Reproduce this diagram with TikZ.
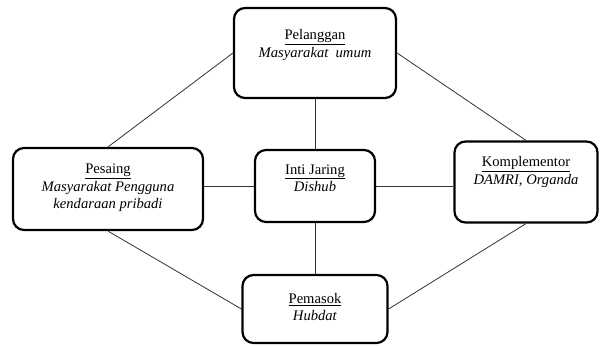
\documentclass[tikz,border=0pt]{standalone}
\usepackage{fontspec}
\setmainfont{Liberation Serif}
\usetikzlibrary{positioning}
\tikzset{kotak/.style={draw,line width=2.2pt,rounded corners=11pt,inner sep=0pt}}
\tikzset{isi/.style={align=center,font=\fontsize{14.6}{17.5}\selectfont,inner sep=0pt}}
\newcommand{\judul}[1]{\underline{#1}}

\begin{document}
\begin{tikzpicture}[x=1pt,y=-1pt]
        \useasboundingbox (0,0) rectangle (601,345);
        \node(pel)[kotak,minimum width=162pt,minimum height=90pt] at (315,53) {};
        \node(pes)[kotak,minimum width=190pt,minimum height=82pt] at (108,189) {};
        \node(inti)[kotak,minimum width=120pt,minimum height=72pt] at (315,186) {};
        \node(komp)[kotak,minimum width=143pt,minimum height=81pt] at (526,182) {};
        \node(pem)[kotak,minimum width=145pt,minimum height=68pt] at (315,309) {};
        \node(pelT)[isi] at (315,45) {\judul{Pelanggan}\\ \textit{Masyarakat\ \ umum}};
        \node(pesT)[isi] at (108,188) {\judul{Pesaing}\\ \textit{Masyarakat Pengguna}\\ \textit{kendaraan pribadi}};
        \node(intiT)[isi] at (315,178) {\judul{Inti Jaring}\\ \textit{Dishub}};
        \node(kompT)[isi] at (526,172) {\judul{Komplementor}\\ \textit{DAMRI, Organda}};
        \node(pemT)[isi] at (315,307) {\judul{Pemasok}\\ \textit{Hubdat}};
        \draw[line width=0.8pt,black!80]
        (pel.west) edge (pes.north)
        (pel.east) edge (komp.north)
        (pes.south) edge (pem.west)
        (komp.south) edge (pem.east)
        (pel) edge (inti)
        (inti) edge (pem)
        (inti.west) edge (inti.west -| pes.east)
        (inti.east) edge (inti.east -| komp.west);
      \end{tikzpicture}
\end{document}
